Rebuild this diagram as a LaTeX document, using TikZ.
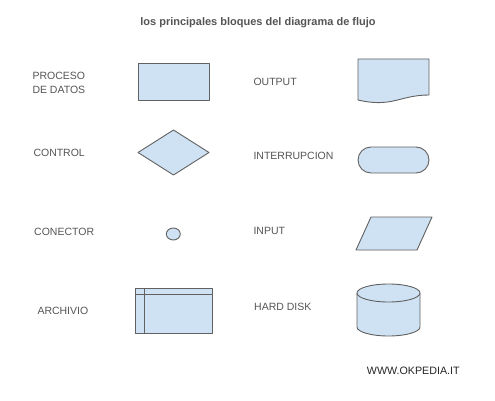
\documentclass[tikz,border=0pt]{standalone}
\usepackage{fontspec}
\setmainfont{Liberation Sans}
\begin{document}
\begin{tikzpicture}[x=1pt,y=-1pt,
  shp/.style={draw=black!62,fill=blockfill,line width=0.9pt,line join=round},
  lbl/.style={anchor=west,inner sep=0pt,text=labelgray,font=\fontsize{10.5}{14}\selectfont},
]
\definecolor{blockfill}{HTML}{CFE2F3}
\definecolor{labelgray}{HTML}{555555}
\useasboundingbox[fill=white] (0,0) rectangle (495,401);
% title
\node[inner sep=0pt,text=labelgray,font=\fontsize{11}{13}\selectfont\bfseries] (title) at (258,23) {los principales bloques del diagrama de flujo};
% labels left
\node[lbl,align=left] (lproc) at (32.3,83) {PROCESO\\DE DATOS};
\node[lbl] (lctrl) at (33.3,152.5) {CONTROL};
\node[lbl] (lcon) at (34,231.7) {CONECTOR};
\node[lbl] (larch) at (37.3,311.3) {ARCHIVIO};
% labels right
\node[lbl] (lout) at (253.3,82) {OUTPUT};
\node[lbl] (lint) at (253.3,156) {INTERRUPCION};
\node[lbl] (linp) at (253.3,231.3) {INPUT};
\node[lbl] (lhd) at (254,306.7) {HARD DISK};
\node[anchor=west,inner sep=0pt,text=black!85,font=\fontsize{10.7}{12}\selectfont] (web) at (366.7,371) {WWW.OKPEDIA.IT};
% process
\draw[shp] (138,63) rectangle (209,100);
% decision
\draw[shp] (138,152.5) -- (173.5,130) -- (209,152.5) -- (173.5,175) -- cycle;
% connector
\draw[shp] (173.3,234) ellipse [x radius=7,y radius=6];
% archivio
\draw[shp] (135,288) rectangle (212,333);
\draw[shp] (135,294) -- (212,294);
\draw[shp] (144,288) -- (144,333);
% output document
\draw[shp] (358,59) -- (429,59) -- (429,95) .. controls (400,95) and (392,108) .. (358,100) -- cycle;
% terminal
\draw[shp,rounded corners=13pt] (358,147) rectangle (429,173);
% input
\draw[shp] (371,217) -- (432,217) -- (417,250) -- (356,250) -- cycle;
% hard disk
\draw[shp] (357,293) -- (357,327) arc[start angle=180,end angle=360,x radius=31.5,y radius=-9] -- (420,293);
\draw[shp] (388.5,293) ellipse [x radius=31.5,y radius=9];
\end{tikzpicture}
\end{document}
